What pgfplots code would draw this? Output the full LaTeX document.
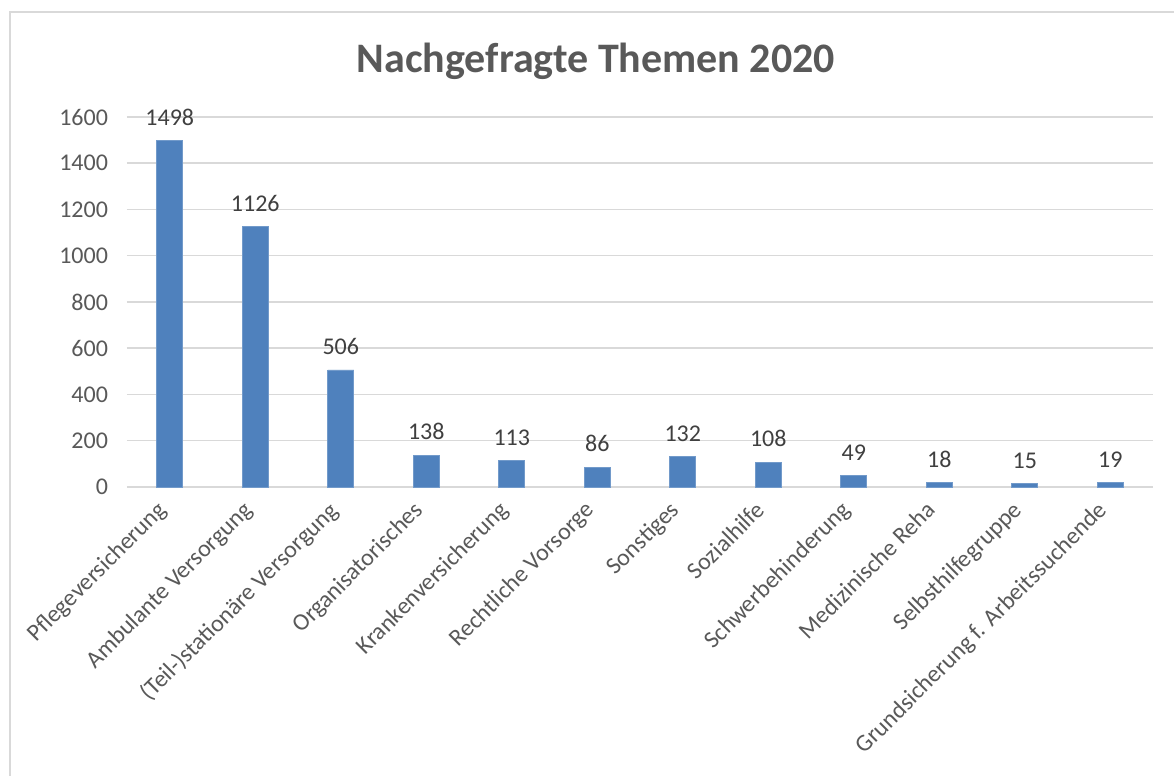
\documentclass[border=0pt]{standalone}
\usepackage{pgfplots}
\pgfplotsset{compat=1.18}
\usepackage{fontspec}
\setmainfont{Carlito}
\definecolor{barblue}{HTML}{4F81BD}
\definecolor{gridgray}{HTML}{D9D9D9}
\definecolor{ticktext}{HTML}{595959}
\definecolor{labeltext}{HTML}{404040}
\begin{document}
\begin{tikzpicture}
\clip (0,0) rectangle (587pt,388pt);
\fill[white] (0,0) rectangle (587pt,388pt);
\draw[gridgray, line width=0.75pt] (5pt,-20pt) rectangle (620pt,382pt);
\node[font=\fontsize{21}{25}\selectfont\bfseries, text=ticktext, anchor=base] at (298pt,351.5pt) {Nachgefragte Themen 2020};
\begin{axis}[
  at={(63.5pt,144.5pt)}, anchor=south west,
  scale only axis, width=513pt, height=185pt,
  xmin=-0.5, xmax=11.5, ymin=0, ymax=1600,
  ytick={0,200,...,1600},
  xtick={0,...,11},
  xticklabels={Pflegeversicherung,Ambulante Versorgung,(Teil-)stationäre Versorgung,Organisatorisches,Krankenversicherung,Rechtliche Vorsorge,Sonstiges,Sozialhilfe,Schwerbehinderung,Medizinische Reha,Selbsthilfegruppe,Grundsicherung f. Arbeitssuchende},
  axis line style={draw=none},
  tick style={draw=none},
  ymajorgrids, grid style={gridgray, line width=0.75pt},
  /pgf/number format/1000 sep={},
  /pgf/number format/assume math mode=true,
  yticklabel style={font=\fontsize{12}{14}\selectfont, text=ticktext, xshift=-6pt},
  xticklabel style={font=\fontsize{12}{14}\selectfont, text=ticktext, xshift=-7pt, yshift=1pt, rotate=45, anchor=north east, inner sep=2pt},
  ybar, bar width=13pt,
  nodes near coords,
  nodes near coords style={font=\fontsize{12}{14}\selectfont, text=labeltext, anchor=south, yshift=4pt, /pgf/number format/assume math mode=true},
  clip=false,
]
\addplot[fill=barblue, draw=barblue!80!white, line width=0.4pt] coordinates {
(0,1498) (1,1126) (2,506) (3,138) (4,113) (5,86) (6,132) (7,108) (8,49) (9,18) (10,15) (11,19)
};
\end{axis}
\end{tikzpicture}
\end{document}
